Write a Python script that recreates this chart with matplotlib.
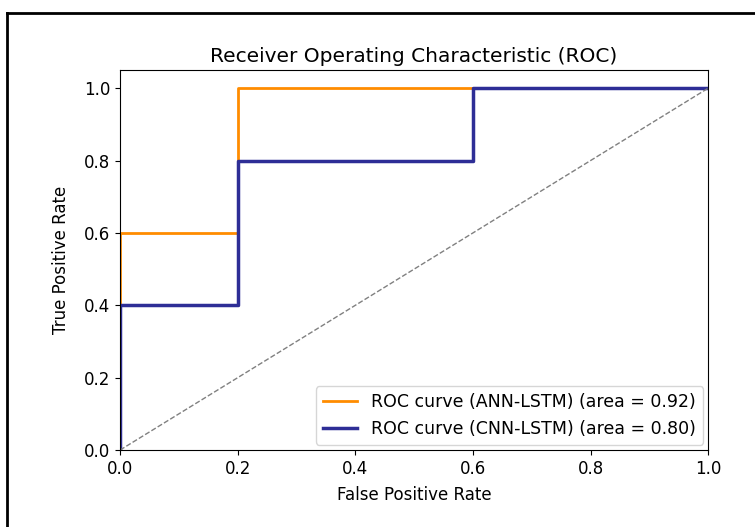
import matplotlib
matplotlib.use('Agg')
import matplotlib.pyplot as plt
from matplotlib.lines import Line2D

# ROC points for the two models
fpr_ann = [0.0, 0.0, 0.2, 0.2, 1.0]
tpr_ann = [0.0, 0.6, 0.6, 1.0, 1.0]
auc_ann = 0.92

fpr_cnn = [0.0, 0.0, 0.2, 0.2, 0.6, 0.6, 1.0]
tpr_cnn = [0.0, 0.4, 0.4, 0.8, 0.8, 1.0, 1.0]
auc_cnn = 0.80

fig = plt.figure(figsize=(7.55, 5.27), dpi=100)
ax = fig.add_axes([0.159, 0.146, 0.779, 0.721])

ax.plot(fpr_ann, tpr_ann, color='darkorange', lw=2,
        label='ROC curve (ANN-LSTM) (area = %0.2f)' % auc_ann)
ax.plot(fpr_cnn, tpr_cnn, color='#2e2e96', lw=2.5,
        label='ROC curve (CNN-LSTM) (area = %0.2f)' % auc_cnn)
ax.plot([0, 1], [0, 1], color='gray', lw=1, linestyle='--')

ax.set_xlim([0.0, 1.0])
ax.set_ylim([0.0, 1.05])
ax.set_xlabel('False Positive Rate', fontsize=12, labelpad=6)
ax.set_ylabel('True Positive Rate', fontsize=12, labelpad=10)
ax.set_title('Receiver Operating Characteristic (ROC)', fontsize=14.5, pad=6)
ax.tick_params(labelsize=12)
ax.legend(loc='lower right', fontsize=12.5, borderaxespad=0.3)

# screenshot frame on top and left
fig.add_artist(Line2D([0.009, 1.0], [0.975, 0.975], color='black', lw=2,
                      transform=fig.transFigure))
fig.add_artist(Line2D([0.009, 0.009], [0.0, 0.975], color='black', lw=2,
                      transform=fig.transFigure))

fig.savefig('out.png', dpi=100)
